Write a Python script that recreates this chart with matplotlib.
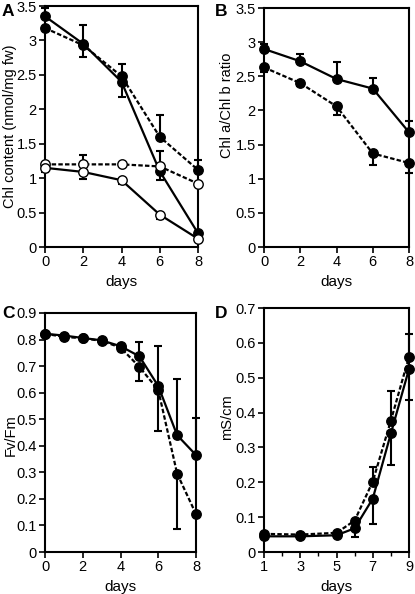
import matplotlib
matplotlib.use("Agg")
import matplotlib.pyplot as plt
import numpy as np

plt.rcParams['font.family'] = ['Liberation Sans', 'DejaVu Sans']
plt.rcParams['font.size'] = 10

# Panel A: Chl content
days_A = [0, 2, 4, 6, 8]
A_solid_filled = [3.35, 2.95, 2.40, 1.10, 0.20]
A_solid_filled_lo = [0, 0, 0.22, 0, 0]
A_solid_filled_hi = [0.12, 0.28, 0, 0.30, 0]
A_dash_filled = [3.18, 2.93, 2.48, 1.60, 1.12]
A_dash_filled_lo = [0, 0.17, 0, 0, 0]
A_dash_filled_hi = [0, 0, 0.18, 0.31, 0.14]
A_dash_open = [1.20, 1.20, 1.20, 1.17, 0.92]
A_dash_open_lo = [0, 0, 0, 0.20, 0]
A_dash_open_hi = [0, 0.13, 0, 0, 0]
A_solid_open = [1.15, 1.09, 0.97, 0.47, 0.12]
A_solid_open_lo = [0.06, 0.10, 0.06, 0.07, 0]
A_solid_open_hi = [0, 0, 0, 0, 0]

# Panel B: Chl a/b ratio
days_B = [0, 2, 4, 6, 8]
B_solid = [2.90, 2.72, 2.46, 2.32, 1.68]
B_solid_hi = [0.08, 0.10, 0.25, 0.16, 0.17]
B_dash = [2.63, 2.40, 2.06, 1.37, 1.23]
B_dash_lo = [0.06, 0.04, 0.13, 0.17, 0.15]

# Panel C: Fv/Fm
days_C = [0, 1, 2, 3, 4, 5, 6, 7, 8]
C_solid = [0.822, 0.815, 0.806, 0.797, 0.775, 0.737, 0.625, 0.440, 0.365]
C_solid_hi = [0, 0, 0, 0, 0, 0.053, 0.150, 0.212, 0.138]
C_dash = [0.822, 0.810, 0.805, 0.795, 0.770, 0.697, 0.610, 0.295, 0.143]
C_dash_lo = [0, 0, 0, 0, 0, 0.052, 0.155, 0.210, 0]

# Panel D: conductivity
days_D = [1, 3, 5, 6, 7, 8, 9]
D_solid = [0.045, 0.045, 0.048, 0.068, 0.153, 0.340, 0.525]
D_solid_lo = [0, 0, 0, 0.025, 0.073, 0.090, 0.090]
D_dash = [0.052, 0.050, 0.055, 0.090, 0.202, 0.377, 0.560]
D_dash_hi = [0, 0, 0, 0, 0.041, 0.086, 0.065]

W, H = 415, 594
fig = plt.figure(figsize=(W / 100, H / 100), dpi=100)

def px_axes(l, r, t, b):
    return fig.add_axes([l / W, 1 - b / H, (r - l) / W, (b - t) / H])

axA = px_axes(45, 198, 6, 247)
axB = px_axes(264, 409, 8, 247)
axC = px_axes(45, 196, 313, 552)
axD = px_axes(264, 409, 308, 552)

DASH = (0, (2, 1))
MS = 6.8

def series(ax, x, y, lo, hi, ls, filled):
    ax.errorbar(x, y, yerr=[lo, hi], fmt='none', ecolor='black',
                elinewidth=1.5, capsize=3, capthick=1.5, clip_on=False, zorder=2)
    ax.plot(x, y, linestyle=ls, color='black', lw=1.6, marker='o', ms=MS,
            mfc='black' if filled else 'white', mec='black', mew=1.0,
            clip_on=False, zorder=3)

def style(ax, ylabel, label_x_px, label_y_px):
    for s in ax.spines.values():
        s.set_linewidth(1.5)
    ax.tick_params(direction='out', length=4, width=1.2, labelsize=10.5,
                   top=False, right=False, pad=2)
    ax.set_xlabel('days', fontsize=11, labelpad=4)
    ax.set_ylabel(ylabel, fontsize=10.5)
    pos = ax.get_position()
    left_px = pos.x0 * W
    w_px = pos.width * W
    top_px = (1 - pos.y1) * H
    h_px = pos.height * H
    ax.yaxis.set_label_coords((label_x_px - left_px) / w_px,
                              1 - (label_y_px - top_px) / h_px)
    ax.yaxis.label.set_va('center')

zeros5 = [0] * 5
series(axA, days_A, A_solid_filled, A_solid_filled_lo, A_solid_filled_hi, '-', True)
series(axA, days_A, A_dash_filled, A_dash_filled_lo, A_dash_filled_hi, DASH, True)
series(axA, days_A, A_dash_open, A_dash_open_lo, A_dash_open_hi, DASH, False)
series(axA, days_A, A_solid_open, A_solid_open_lo, A_solid_open_hi, '-', False)
axA.set_xlim(0, 8)
axA.set_ylim(0, 3.5)
axA.set_xticks([0, 2, 4, 6, 8])
axA.set_yticks([0, 0.5, 1, 1.5, 2, 2.5, 3, 3.5])
axA.set_yticklabels(['0', '0.5', '1', '1.5', '2', '2.5', '3', '3.5'])
style(axA, 'Chl content (nmol/mg fw)', 10, 126)

series(axB, days_B, B_solid, zeros5, B_solid_hi, '-', True)
series(axB, days_B, B_dash, B_dash_lo, zeros5, DASH, True)
axB.set_xlim(0, 8)
axB.set_ylim(0, 3.5)
axB.set_xticks([0, 2, 4, 6, 8])
axB.set_yticks([0, 0.5, 1, 1.5, 2, 2.5, 3, 3.5])
axB.set_yticklabels(['0', '0.5', '1', '1.5', '2', '2.5', '3', '3.5'])
style(axB, 'Chl a/Chl b ratio', 227, 105)

zeros9 = [0] * 9
series(axC, days_C, C_solid, zeros9, C_solid_hi, '-', True)
series(axC, days_C, C_dash, C_dash_lo, zeros9, DASH, True)
axC.set_xlim(0, 8)
axC.set_ylim(0, 0.9)
axC.set_xticks([0, 2, 4, 6, 8])
axC.set_yticks(np.round(np.arange(0, 0.91, 0.1), 1))
axC.set_yticklabels(['0', '0.1', '0.2', '0.3', '0.4', '0.5', '0.6', '0.7', '0.8', '0.9'])
style(axC, 'Fv/Fm', 11, 435)

zeros7 = [0] * 7
series(axD, days_D, D_solid, D_solid_lo, zeros7, '-', True)
series(axD, days_D, D_dash, zeros7, D_dash_hi, DASH, True)
axD.set_xlim(1, 9)
axD.set_ylim(0, 0.7)
axD.set_xticks([1, 3, 5, 7, 9])
axD.set_xticks([2, 4, 6, 8], minor=True)
axD.tick_params(which='minor', direction='out', length=3, width=1.0)
axD.set_yticks(np.round(np.arange(0, 0.71, 0.1), 1))
axD.set_yticklabels(['0', '0.1', '0.2', '0.3', '0.4', '0.5', '0.6', '0.7'])
style(axD, 'mS/cm', 227, 417)

for lbl, x, y in [('A', 2, 4), ('B', 215, 4), ('C', 2, 306), ('D', 215, 306)]:
    fig.text(x / W, 1 - y / H, lbl, fontsize=12.5, fontweight='bold', va='top', ha='left')

fig.savefig('out.png', dpi=100)
